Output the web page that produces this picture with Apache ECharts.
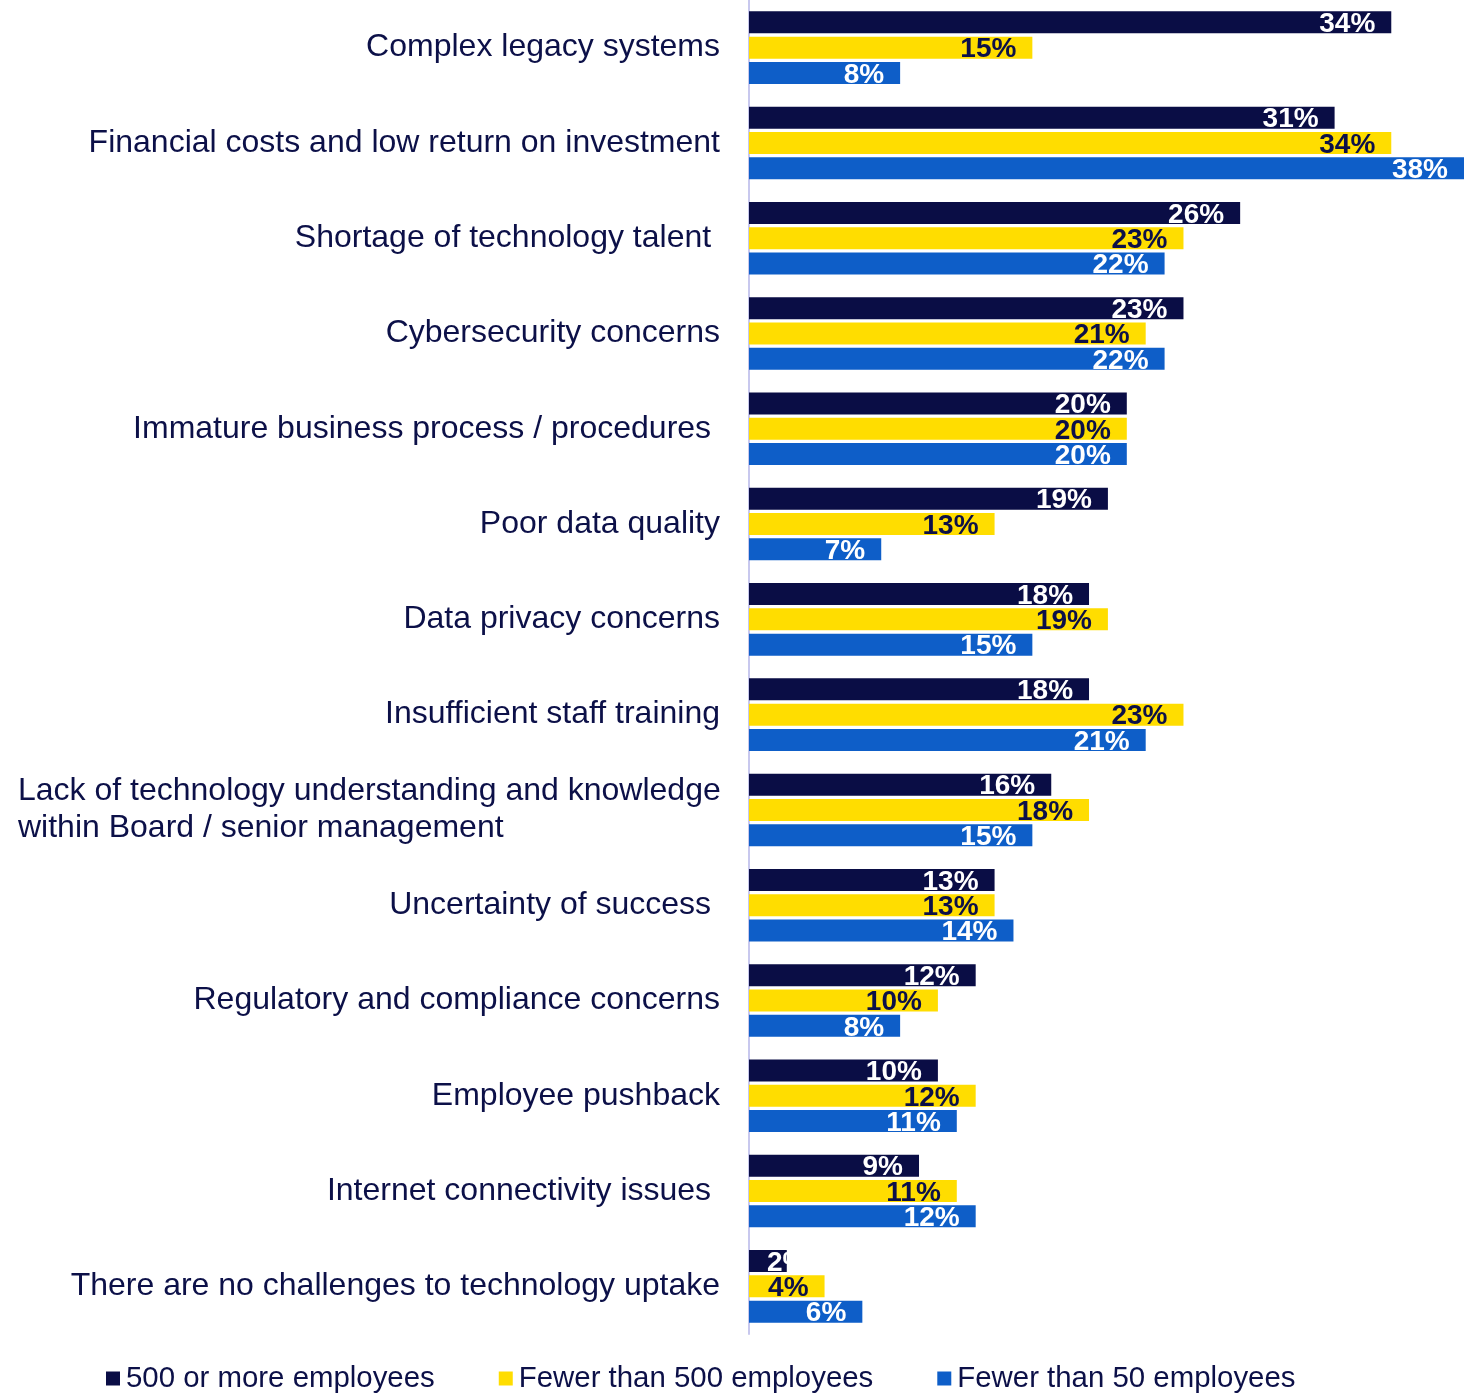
<!DOCTYPE html>
<html>
<head>
<meta charset="utf-8">
<script src="https://cdn.jsdelivr.net/npm/echarts@6/dist/echarts.min.js"></script>
<style>
  html, body { margin: 0; padding: 0; background: #ffffff; }
  #chart { width: 1464px; height: 1393px; }
</style>
</head>
<body>
<div id="chart"></div>
<script>
// Challenges to technology uptake, by organisation size (% of respondents)
const categories = [
  'Complex legacy systems',
  'Financial costs and low return on investment',
  'Shortage of technology talent ',
  'Cybersecurity concerns',
  'Immature business process / procedures ',
  'Poor data quality',
  'Data privacy concerns',
  'Insufficient staff training',
  'Lack of technology understanding and knowledge\nwithin Board / senior management',
  'Uncertainty of success ',
  'Regulatory and compliance concerns',
  'Employee pushback',
  'Internet connectivity issues ',
  'There are no challenges to technology uptake'
];

const seriesNames = ['500 or more employees', 'Fewer than 500 employees', 'Fewer than 50 employees'];

const large = [34, 31, 26, 23, 20, 19, 18, 18, 16, 13, 12, 10, 9, 2];
const medium = [15, 34, 23, 21, 20, 13, 19, 23, 18, 13, 10, 12, 11, 4];
const small = [8, 38, 22, 22, 20, 7, 15, 21, 15, 14, 8, 11, 12, 6];

const NAVY = '#0a0d45';
const YELLOW = '#ffdd00';
const BLUE = '#0e5ec8';
const TEXT = '#0c1048';
const FONT = '"Liberation Sans", Arial, sans-serif';

// Bars too short to hold their label keep it anchored from the bar start
function toItems(data) {
  return data.map(function (v) {
    if (v < 3) {
      return { value: v, label: { position: 'insideLeft', distance: 18 } };
    }
    return v;
  });
}

function barSeries(name, data, color, labelColor) {
  return {
    name: name,
    type: 'bar',
    data: toItems(data),
    barWidth: 22,
    barGap: '15%',
    itemStyle: { color: color },
    label: {
      show: true,
      position: 'insideRight',
      distance: 16,
      offset: [0, 2],
      formatter: '{c}%',
      color: labelColor,
      fontFamily: FONT,
      fontWeight: 'bold',
      fontSize: 28
    }
  };
}

const chart = echarts.init(document.getElementById('chart'), null, { renderer: 'canvas' });

chart.setOption({
  animation: false,
  backgroundColor: '#ffffff',
  grid: { left: 749, right: 0, top: -4, height: 1338, containLabel: false },
  xAxis: {
    type: 'value',
    min: 0,
    max: 37.85,
    show: false
  },
  yAxis: {
    type: 'category',
    data: categories,
    inverse: true,
    axisTick: { show: false },
    axisLine: { show: true, lineStyle: { color: '#c8c8ee', width: 2 } },
    axisLabel: {
      margin: 29,
      color: TEXT,
      fontFamily: FONT,
      fontSize: 32,
      formatter: function (v) {
        if (v.indexOf('\n') >= 0) {
          return v.split('\n').map(function (s) { return '{l|' + s + '}'; }).join('\n');
        }
        return v;
      },
      rich: {
        l: {
          width: 702,
          align: 'left',
          color: TEXT,
          fontFamily: FONT,
          fontSize: 32,
          lineHeight: 37
        }
      }
    }
  },
  legend: {
    left: 106,
    top: 1364,
    padding: 0,
    itemWidth: 14,
    itemHeight: 14,
    itemGap: 64,
    icon: 'rect',
    textStyle: { color: TEXT, fontFamily: FONT, fontSize: 29.4, padding: [0, 0, 0, 1] },
    data: seriesNames
  },
  series: [
    barSeries(seriesNames[0], large, NAVY, '#ffffff'),
    barSeries(seriesNames[1], medium, YELLOW, TEXT),
    barSeries(seriesNames[2], small, BLUE, '#ffffff')
  ]
});
</script>
</body>
</html>
